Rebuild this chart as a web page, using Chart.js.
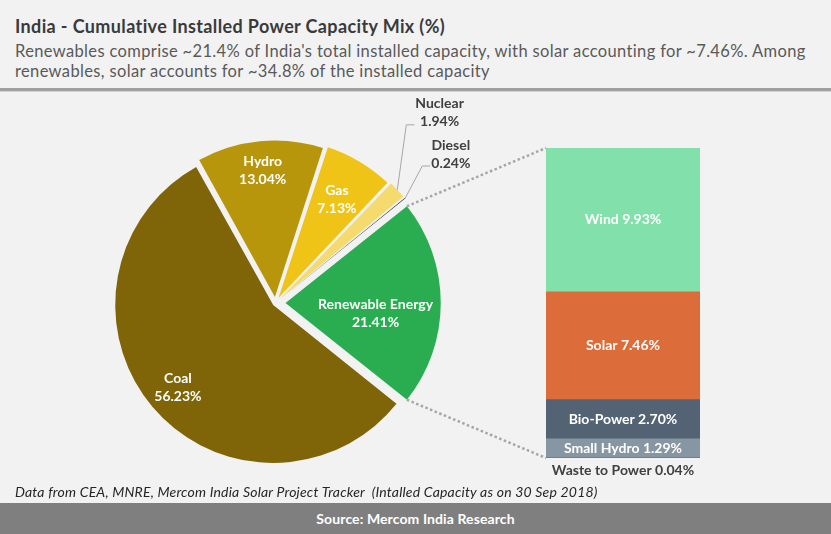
<!DOCTYPE html>
<html><head><meta charset="utf-8">
<script src="https://cdn.jsdelivr.net/npm/chart.js@4.4.1/dist/chart.umd.min.js"></script>
<style>
html,body{margin:0;padding:0;}
body{width:831px;height:534px;background:#f2f2f2;position:relative;overflow:hidden;font-family:Lato, sans-serif;}
#title{position:absolute;left:15px;top:15px;font-size:18px;letter-spacing:0.37px;font-weight:bold;color:#3a3a3a;white-space:nowrap;}
#sub{position:absolute;left:15px;top:41px;font-size:16.5px;letter-spacing:0.35px;line-height:20px;color:#595959;white-space:nowrap;}
#sep{position:absolute;left:0;top:88px;width:831px;height:3px;background:#a0a0a0;border-bottom:1px solid #d4d4d4;}
#note{position:absolute;left:15px;top:483px;font-size:14px;letter-spacing:0.19px;font-style:italic;color:#262626;white-space:nowrap;}
#foot{position:absolute;left:0;top:503px;width:831px;height:31px;background:#7f7f7f;color:#fff;font-weight:bold;font-size:14px;letter-spacing:0.1px;text-align:center;line-height:31px;}
canvas{position:absolute;left:0;top:0;}
</style></head>
<body>
<div id="title">India - Cumulative Installed Power Capacity Mix (%)</div>
<div id="sub">Renewables comprise ~21.4% of India's total installed capacity, with solar accounting for ~7.46%. Among<br>renewables, solar accounts for ~34.8% of the installed capacity</div>
<div id="sep"></div>
<canvas id="pie" width="831" height="534"></canvas>
<canvas id="bar" width="831" height="534"></canvas>
<div id="note">Data from CEA, MNRE, Mercom India Solar Project Tracker&nbsp; (Intalled Capacity as on 30 Sep 2018)</div>
<div id="foot">Source: Mercom India Research</div>
<script>
// ---- data ----
const pieLabels = ['Renewable Energy', 'Coal', 'Hydro', 'Gas', 'Nuclear', 'Diesel'];
const pieValues = [21.41, 56.23, 13.04, 7.13, 1.94, 0.24];
const barLabels = ['Wind', 'Solar', 'Bio-Power', 'Small Hydro', 'Waste to Power']; // top to bottom
const barValues = [9.93, 7.46, 2.70, 1.29, 0.04];

// ---- style ----
const pieColors = ['#29ad50', '#7f6508', '#b8960c', '#f0c416', '#f5da6e', '#1e283c'];
const pieOffsets = [40, 12, 24, 24, 24, 24];
const barColors = ['#82e0aa', '#dc6c3a', '#546373', '#8696a2', '#29ad50'];
const FONT = 'Lato, sans-serif';
// inside label: [radius fraction, dy]; outside label: leader elbow [dx, dy]
const pieLabelLayout = [
  {type: 'in', r: 0.58, dy: 10},
  {type: 'in', r: 0.79, dy: 2},
  {type: 'in', r: 0.81, dy: 0},
  {type: 'in', r: 0.72, dy: 0},
  {type: 'out', dx: 9, dy: -65},
  {type: 'out', dx: 17, dy: -32}
];

function fmt(v) { return v.toFixed(2) + '%'; }

function arcGeom(arc) {
  const p = arc.getProps(['x', 'y', 'startAngle', 'endAngle', 'outerRadius', 'circumference'], true);
  const mid = (p.startAngle + p.endAngle) / 2;
  const off = (arc.options.offset || 0) / 4;
  const fix = 1 - Math.sin(Math.min(Math.PI, p.circumference));
  return {
    cx: p.x + Math.cos(mid) * off,
    cy: p.y + Math.sin(mid) * off,
    mid: mid, start: p.startAngle, end: p.endAngle,
    r: p.outerRadius + off * fix
  };
}

const pieLabelPlugin = {
  id: 'pieLabels',
  afterDatasetsDraw(chart) {
    const ctx = chart.ctx;
    const arcs = chart.getDatasetMeta(0).data;
    ctx.save();
    ctx.font = 'bold 14px ' + FONT;
    ctx.textAlign = 'center';
    ctx.textBaseline = 'middle';
    arcs.forEach((arc, i) => {
      const g = arcGeom(arc);
      const L = pieLabelLayout[i];
      const name = pieLabels[i], val = fmt(pieValues[i]);
      if (L.type === 'in') {
        const x = g.cx + Math.cos(g.mid) * g.r * L.r;
        const y = g.cy + Math.sin(g.mid) * g.r * L.r + L.dy;
        ctx.fillStyle = '#ffffff';
        ctx.fillText(name, x, y - 9);
        ctx.fillText(val, x, y + 9);
      } else {
        const sx = g.cx + Math.cos(g.mid) * g.r;
        const sy = g.cy + Math.sin(g.mid) * g.r;
        const ex = sx + L.dx, ey = sy + L.dy;
        ctx.strokeStyle = '#a6a6a6';
        ctx.lineWidth = 1;
        ctx.beginPath();
        ctx.moveTo(sx, sy); ctx.lineTo(ex, ey); ctx.lineTo(ex + 8, ey);
        ctx.stroke();
        const w = Math.max(ctx.measureText(name).width, ctx.measureText(val).width);
        const tx = ex + 9 + w / 2;
        ctx.fillStyle = '#404040';
        ctx.fillText(name, tx, ey - 21);
        ctx.fillText(val, tx, ey - 3);
      }
    });
    ctx.restore();
  }
};

const pieTotal = pieValues.reduce((a, b) => a + b, 0);
const pieChart = new Chart(document.getElementById('pie'), {
  type: 'pie',
  data: {
    labels: pieLabels,
    datasets: [{data: pieValues, backgroundColor: pieColors, borderWidth: 0, offset: pieOffsets}]
  },
  options: {
    responsive: false, animation: false, devicePixelRatio: 1, events: [],
    rotation: 90 - (pieValues[0] / pieTotal) * 180,
    radius: 155,
    layout: {padding: {left: 60, right: 340, top: 106, bottom: 34}},
    plugins: {legend: {display: false}, tooltip: {enabled: false}}
  },
  plugins: [pieLabelPlugin]
});

const barLabelPlugin = {
  id: 'barLabels',
  afterDatasetsDraw(chart) {
    const ctx = chart.ctx;
    ctx.save();
    ctx.textAlign = 'center';
    ctx.textBaseline = 'middle';
    chart.data.datasets.forEach((ds, di) => {
      const el = chart.getDatasetMeta(di).data[0];
      const idx = ds.srcIndex;
      const text = barLabels[idx] + ' ' + fmt(barValues[idx]);
      const h = Math.abs(el.base - el.y);
      ctx.font = 'bold 14px ' + FONT;
      if (h > 14) {
        ctx.fillStyle = '#ffffff';
        ctx.fillText(text, el.x, (el.y + el.base) / 2);
      } else {
        ctx.fillStyle = '#404040';
        ctx.fillText(text, el.x, el.base + 12);
      }
    });
    ctx.restore();
  }
};

const connectorPlugin = {
  id: 'connector',
  afterDraw(chart) {
    const ctx = chart.ctx;
    const g = arcGeom(pieChart.getDatasetMeta(0).data[0]);
    const n = chart.data.datasets.length;
    const topEl = chart.getDatasetMeta(n - 1).data[0];
    const botEl = chart.getDatasetMeta(0).data[0];
    const bx = topEl.x - topEl.width / 2;
    ctx.save();
    ctx.strokeStyle = '#a6a6a6';
    ctx.lineWidth = 2.5;
    ctx.setLineDash([2.5, 2.5]);
    ctx.beginPath();
    ctx.moveTo(g.cx + Math.cos(g.start) * g.r, g.cy + Math.sin(g.start) * g.r);
    ctx.lineTo(bx, topEl.y);
    ctx.moveTo(g.cx + Math.cos(g.end) * g.r, g.cy + Math.sin(g.end) * g.r);
    ctx.lineTo(bx, botEl.base);
    ctx.stroke();
    ctx.restore();
  }
};

const barTotal = barValues.reduce((a, b) => a + b, 0);
const barDatasets = barLabels.map((l, i) => ({
  label: l, data: [barValues[i]], backgroundColor: barColors[i], srcIndex: i,
  borderWidth: 0, barPercentage: 1, categoryPercentage: 1
})).reverse();

const barChart = new Chart(document.getElementById('bar'), {
  type: 'bar',
  data: {labels: ['Renewable Energy'], datasets: barDatasets},
  options: {
    responsive: false, animation: false, devicePixelRatio: 1, events: [],
    layout: {padding: {left: 546, right: 131, top: 148, bottom: 76}},
    scales: {
      x: {display: false, stacked: true},
      y: {display: false, stacked: true, min: 0, max: barTotal}
    },
    plugins: {legend: {display: false}, tooltip: {enabled: false}}
  },
  plugins: [barLabelPlugin, connectorPlugin]
});
</script>
</body></html>
